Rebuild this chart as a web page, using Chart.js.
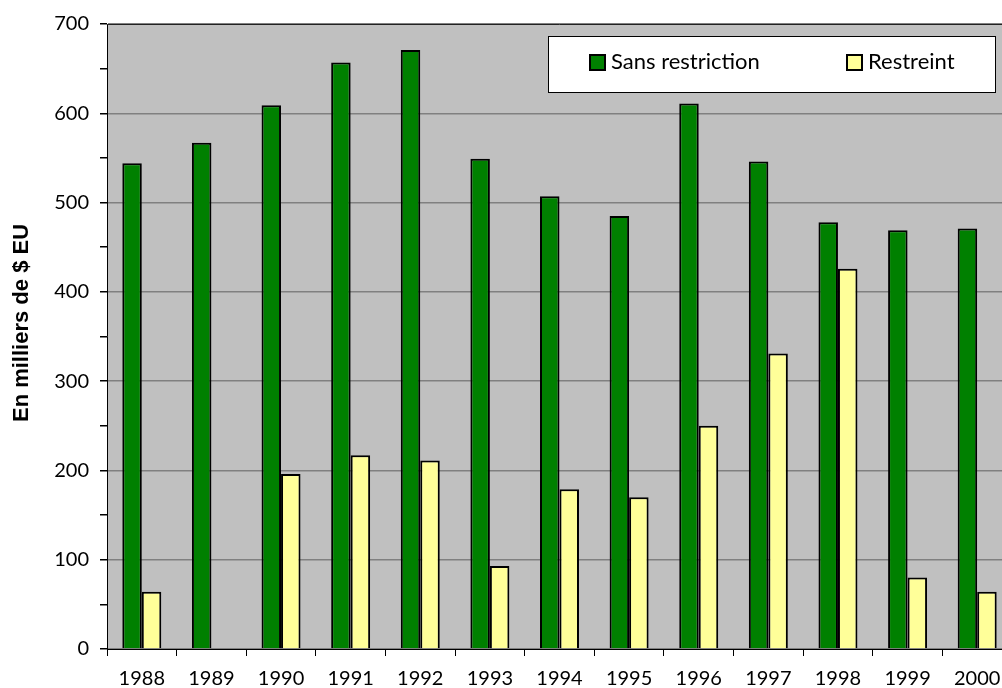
<!DOCTYPE html>
<html>
<head>
<meta charset="utf-8">
<script src="https://cdn.jsdelivr.net/npm/chart.js@4"></script>
<style>
  html, body { margin: 0; padding: 0; background: #fff; overflow: hidden; }
  #wrap { width: 1014px; height: 688px; }
</style>
</head>
<body>
<div id="wrap"><canvas id="barChart"></canvas></div>
<script>
const years = ["1988","1989","1990","1991","1992","1993","1994","1995","1996","1997","1998","1999","2000"]
const sansRestriction = [544,567,609,657,671,549,507,485,611,546,478,469,471]
const restreint = [64,null,196,217,211,93,179,170,250,331,426,80,64]
const yTicks = [0,100,200,300,400,500,600,700]
const yTitle = "En milliers de $ EU"

const FONT = "Lato, 'DejaVu Sans', sans-serif"
const TITLE_FONT = "'Liberation Sans', Arial, sans-serif"

// gray plot background + frame
const plotBg = {
  id: 'plotBg',
  beforeDraw(c){
    const a = c.chartArea, ctx = c.ctx
    ctx.save()
    ctx.fillStyle = '#c0c0c0'
    ctx.fillRect(a.left, a.top, a.right - a.left, a.bottom - a.top)
    ctx.restore()
  },
  afterDatasetsDraw(c){
    const a = c.chartArea, ctx = c.ctx
    ctx.save()
    ctx.strokeStyle = '#222'
    ctx.lineWidth = 1
    ctx.beginPath()
    ctx.moveTo(a.left, a.top + 0.5)
    ctx.lineTo(a.right, a.top + 0.5)
    ctx.stroke()
    ctx.restore()
  }
}

// legend box inside the plot + rotated y title
const boxLegend = {
  id: 'boxLegend',
  afterDraw(c){
    const ctx = c.ctx
    ctx.save()
    ctx.fillStyle = '#fff'
    ctx.fillRect(548, 36, 447, 56)
    ctx.strokeStyle = '#000'
    ctx.lineWidth = 1
    ctx.strokeRect(548.5, 36.5, 447, 56)
    const xs = [590, 847]
    c.data.datasets.forEach((ds, i) => {
      ctx.fillStyle = ds.backgroundColor
      ctx.fillRect(xs[i], 55, 15, 15)
      ctx.strokeStyle = '#000'
      ctx.lineWidth = 2
      ctx.strokeRect(xs[i], 55, 15, 15)
      ctx.fillStyle = '#000'
      ctx.font = '22px ' + FONT
      ctx.textBaseline = 'middle'
      ctx.fillText(ds.label, xs[i] + 21, 62)
    })
    // axis title
    ctx.translate(22, 323)
    ctx.rotate(-Math.PI / 2)
    ctx.font = 'bold 22px ' + TITLE_FONT
    ctx.textAlign = 'center'
    ctx.textBaseline = 'middle'
    ctx.fillStyle = '#000'
    ctx.fillText(yTitle, 0, 0)
    ctx.restore()
  }
}

window.addEventListener('load', chart)

function chart(){
  new Chart(document.getElementById("barChart"), {
    type: 'bar',
    data: {
      labels: years,
      datasets: [
        {
          label: "Sans restriction",
          data: sansRestriction,
          backgroundColor: "#008000",
          borderColor: "#000",
          borderWidth: 2,
          borderSkipped: 'bottom'
        },
        {
          label: "Restreint",
          data: restreint,
          backgroundColor: "#ffff99",
          borderColor: "#000",
          borderWidth: 2,
          borderSkipped: 'bottom'
        }
      ]
    },
    options: {
      responsive: true,
      maintainAspectRatio: false,
      animation: false,
      categoryPercentage: 0.56,
      barPercentage: 1,
      layout: { padding: { top: 24, right: 2, left: 0, bottom: 0 } },
      plugins: {
        legend: { display: false },
        tooltip: { enabled: false }
      },
      scales: {
        x: {
          offset: true,
          border: { color: '#000', width: 1 },
          grid: { offset: true, drawOnChartArea: false, tickLength: 7, color: '#000' },
          ticks: { color: '#000', font: { family: FONT, size: 20 }, padding: 11, maxRotation: 0, autoSkip: false },
          afterFit(s){ s.height = 39 }
        },
        y: {
          min: 0,
          max: 700,
          border: { color: '#000', width: 1 },
          grid: {
            color: ctx => (ctx.tick && ctx.tick.value % 100 === 0) ? '#808080' : 'rgba(0,0,0,0)',
            tickColor: '#000',
            tickLength: 7,
            lineWidth: 1.5
          },
          ticks: {
            stepSize: 50,
            color: '#000',
            font: { family: FONT, size: 20 },
            padding: 11,
            callback: v => yTicks.includes(v) ? v : ''
          },
          afterFit(s){ s.width = 107 }
        }
      }
    },
    plugins: [plotBg, boxLegend]
  })
}
</script>
</body>
</html>
